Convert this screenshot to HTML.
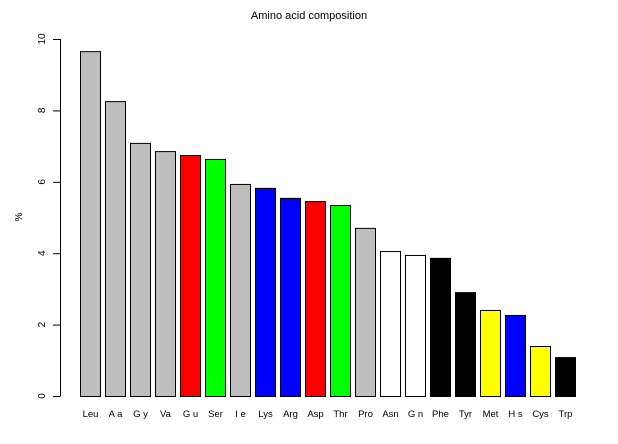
<!DOCTYPE html>
<html><head><meta charset="utf-8"><style>
body{margin:0;background:#fff;}
svg{display:block;font-family:"Liberation Sans",sans-serif;}
</style></head><body>
<svg id="chart" width="618" height="444">
<text x="309" y="19" text-anchor="middle" font-size="11">Amino acid composition</text>
<text x="22" y="217" text-anchor="middle" font-size="10" transform="rotate(-90 22 217)">%</text>
<g id="axis"></g><g id="bars"></g><g id="labels"></g>
</svg>
<script>
const categories=["Leu","A a","G y","Va","G u","Ser","I e","Lys","Arg","Asp","Thr","Pro","Asn","G n","Phe","Tyr","Met","H s","Cys","Trp"];
const values=[9.66,8.26,7.09,6.86,6.75,6.64,5.94,5.83,5.55,5.46,5.35,4.71,4.06,3.95,3.87,2.91,2.41,2.27,1.40,1.09];
const colors=["#bebebe","#bebebe","#bebebe","#bebebe","#ff0000","#00ff00","#bebebe","#0000ff","#0000ff","#ff0000","#00ff00","#bebebe","#ffffff","#ffffff","#000000","#000000","#ffff00","#0000ff","#ffff00","#000000"];
const yTicks=[0,2,4,6,8,10];
const NS="http://www.w3.org/2000/svg";
const y=v=>396-v*35.7;
const x=i=>80.5+i*25;
const axis=document.getElementById('axis'),bars=document.getElementById('bars'),labels=document.getElementById('labels');
function mk(t,a,p){const e=document.createElementNS(NS,t);for(const k in a)e.setAttribute(k,a[k]);p.appendChild(e);return e;}
const al=mk('line',{x1:60.5,x2:60.5,y1:y(0),y2:y(10),stroke:'#000'},axis);


yTicks.forEach(t=>{
 const l=mk('line',{x1:53,x2:60.5,y1:y(t)+0.5,y2:y(t)+0.5,stroke:'#000'},axis);
 
 
 const tx=mk('text',{x:45,y:y(t),'text-anchor':'middle','font-size':10,transform:`rotate(-90 45 ${y(t)})`},axis);
 tx.textContent=t;
 
 
});
values.forEach((v,i)=>{
 const r=mk('rect',{x:x(i),y:y(v)+0.5,width:20,height:y(0)-y(v),fill:colors[i],stroke:'#000','stroke-width':1},bars);
 
 
 const t=mk('text',{x:x(i)+10,y:417,'text-anchor':'middle','font-size':9.5},labels);
 t.textContent=categories[i];
 
 
});
</script>
</body></html>
